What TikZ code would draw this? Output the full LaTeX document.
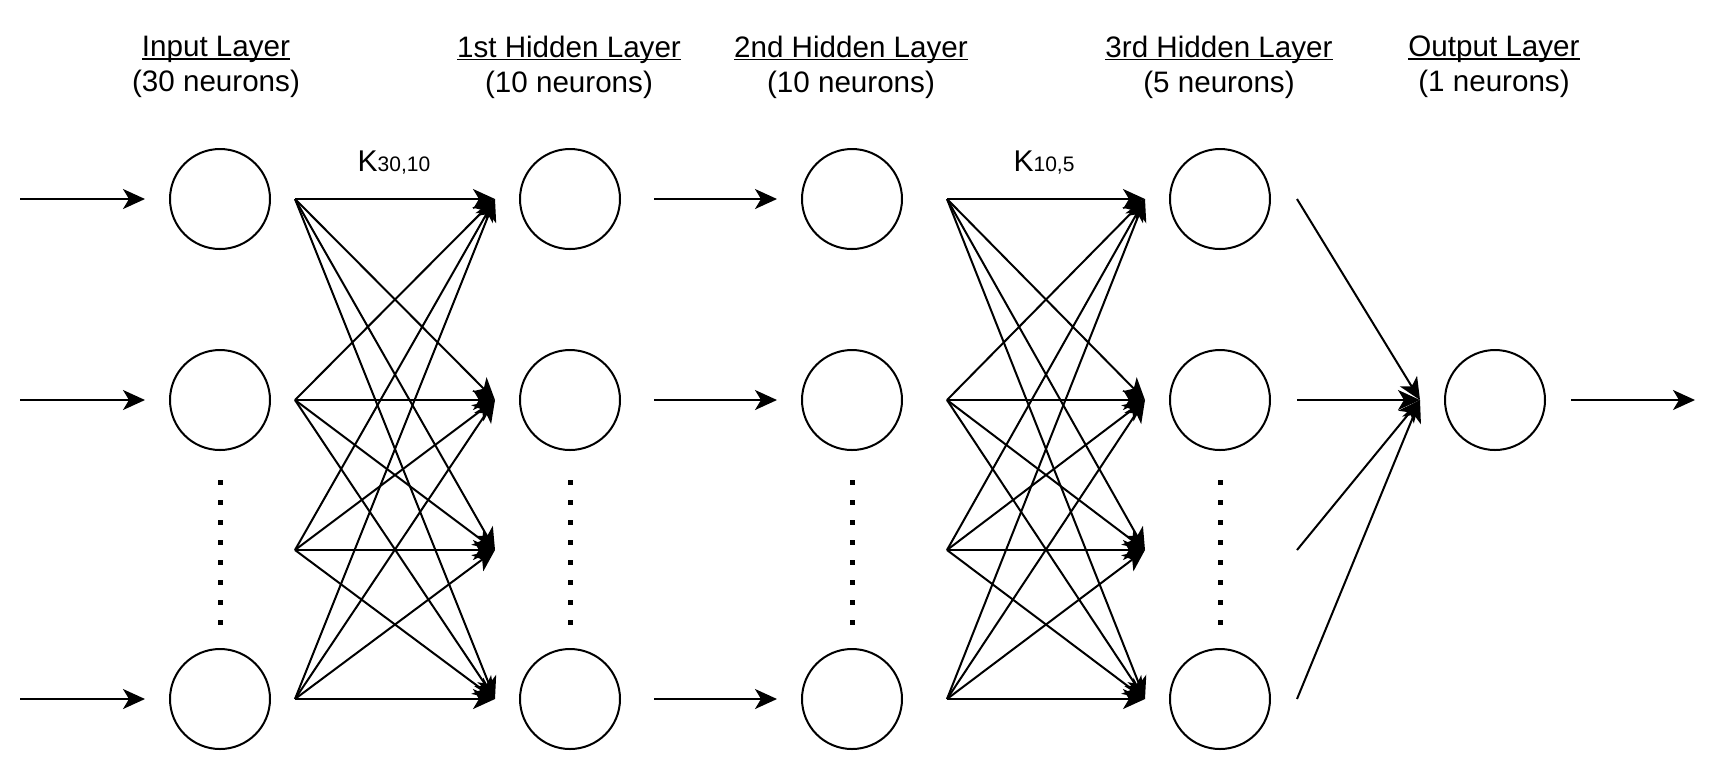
\documentclass[tikz,border=0pt]{standalone}
\usepackage{fontspec}
\setmainfont{Liberation Sans}
\usetikzlibrary{arrows.meta}
\newcommand\myul[1]{\setbox0\hbox{#1}\rlap{\rule[-1.6pt]{\wd0}{0.8pt}}\box0}
\begin{document}
\begin{tikzpicture}[x=0.5pt,y=-0.5pt,
  neuron/.style={circle,draw,line width=1pt,minimum size=50pt,inner sep=0pt},
  conn/.style={line width=1pt,-{Stealth[length=11pt,width=10pt,inset=3pt]}},
  title/.style={align=center,font=\fontsize{14.8}{17.5}\selectfont},
  klabel/.style={font=\fontsize{15}{17}\selectfont}]
\useasboundingbox (0,0) rectangle (1726,768);
% titles
\node[title] (t1) at (216,67) {\myul{Input Layer}\\(30 neurons)};
\node[title] (t2) at (569,67) {\myul{1st Hidden Layer}\\(10 neurons)};
\node[title] (t3) at (851,67) {\myul{2nd Hidden Layer}\\(10 neurons)};
\node[title] (t4) at (1219,67) {\myul{3rd Hidden Layer}\\(5 neurons)};
\node[title] (t5) at (1494,67) {\myul{Output Layer}\\(1 neurons)};
% weight labels
\node[klabel] (k1) at (394,163) {K{\fontsize{10.5}{12}\selectfont 30,10}};
\node[klabel] (k2) at (1044,163) {K{\fontsize{10.5}{12}\selectfont 10,5}};
% neurons
\foreach \c/\x in {i/220,h/570,g/852,t/1220}{
  \node[neuron] (\c1) at (\x,199) {};
  \node[neuron] (\c2) at (\x,400) {};
  \node[neuron] (\c4) at (\x,699) {};
  \foreach \k in {0,...,7}
    \fill (\x-2.5,482+20*\k-2.5) rectangle ++(5,5);
}
\node[neuron] (o) at (1495,400) {};
% input arrows and middle arrows
\foreach \r/\y in {1/199,2/400,4/699}{
  \coordinate (ins\r) at (20,\y);
  \coordinate (ine\r) at (145,\y);
  \draw[conn] (ins\r) -- (ine\r);
  \coordinate (ms\r) at (654,\y);
  \coordinate (me\r) at (777,\y);
  \draw[conn] (ms\r) -- (me\r);
}
% fan coordinates
\foreach \r/\y in {1/199,2/400,3/550,4/699}{
  \coordinate (a\r) at (295,\y);
  \coordinate (b\r) at (495,\y);
  \coordinate (c\r) at (947,\y);
  \coordinate (d\r) at (1145,\y);
  \coordinate (e\r) at (1297,\y);
}
\coordinate (f) at (1420,400);
\foreach \s in {1,...,4}{
  \foreach \t in {1,...,4}{
    \draw[conn] (a\s) -- (b\t);
    \draw[conn] (c\s) -- (d\t);
  }
  \draw[conn] (e\s) -- (f);
}
% output arrow
\coordinate (os) at (1571,400);
\coordinate (oe) at (1695,400);
\draw[conn] (os) -- (oe);
\end{tikzpicture}
\end{document}
